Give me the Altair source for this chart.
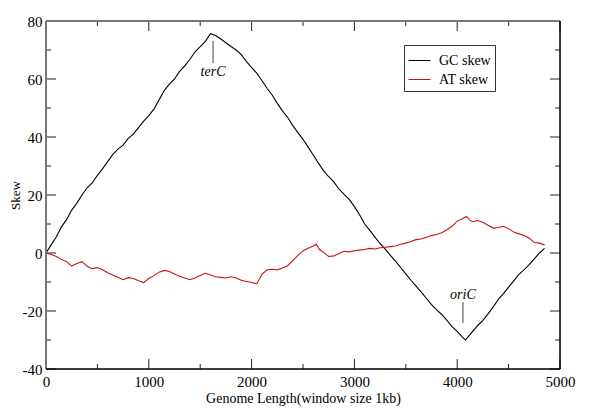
import altair as alt
import pandas as pd

# ---- data ----
gc_x = [0, 50, 100, 150, 200, 250, 300, 350, 400, 450, 500, 550, 600, 650, 700, 750, 800, 850, 900, 950,
        1000, 1050, 1100, 1150, 1200, 1250, 1300, 1350, 1400, 1450, 1500, 1550, 1600, 1650, 1700, 1750, 1800,
        1850, 1900, 1950, 2000, 2050, 2100, 2150, 2200, 2250, 2300, 2350, 2400, 2450, 2500, 2550, 2600, 2650,
        2700, 2750, 2800, 2850, 2900, 2950, 3000, 3050, 3100, 3150, 3200, 3250, 3300, 3350, 3400, 3450, 3500,
        3550, 3600, 3650, 3700, 3750, 3800, 3850, 3900, 3950, 4000, 4050, 4080, 4100, 4150, 4200, 4250, 4300,
        4350, 4400, 4450, 4500, 4550, 4600, 4650, 4700, 4750, 4800, 4850]
gc_y = [0.0, 2.8, 5.5, 9.0, 11.5, 14.8, 17.2, 20.0, 22.5, 24.2, 26.8, 29.0, 31.5, 34.0, 35.8, 37.2, 39.5, 41.0,
        43.2, 45.5, 47.4, 49.6, 52.8, 56.0, 58.2, 60.0, 62.6, 64.5, 66.8, 69.4, 71.2, 73.0, 75.6, 75.0, 73.8,
        72.5, 71.2, 70.0, 68.4, 66.0, 64.0, 62.0, 59.5, 56.8, 54.5, 51.6, 49.0, 46.8, 44.0, 41.5, 39.2, 36.5,
        33.8, 31.0, 28.4, 26.3, 24.5, 22.0, 20.2, 18.5, 16.0, 13.2, 10.0, 7.8, 5.5, 3.2, 1.3, -0.8, -2.8, -5.0,
        -7.2, -9.4, -11.4, -13.5, -15.6, -17.8, -19.6, -21.2, -23.2, -25.4, -27.0, -29.0, -30.0, -29.2, -27.0,
        -25.0, -23.2, -21.0, -18.6, -16.0, -14.0, -11.8, -9.6, -7.4, -5.8, -4.0, -2.0, 0.0, 1.6]

at_x = [0, 50, 100, 150, 200, 250, 300, 350, 400, 450, 500, 550, 600, 650, 700, 750, 800, 850, 900, 950,
        1000, 1050, 1100, 1150, 1200, 1250, 1300, 1350, 1400, 1450, 1500, 1550, 1600, 1650, 1700, 1750, 1800,
        1850, 1900, 1950, 2000, 2050, 2080, 2100, 2150, 2200, 2250, 2300, 2350, 2400, 2450, 2500, 2550, 2600,
        2630, 2660, 2700, 2750, 2800, 2850, 2900, 2950, 3000, 3050, 3100, 3150, 3200, 3250, 3300, 3350, 3400,
        3450, 3500, 3550, 3600, 3650, 3700, 3750, 3800, 3850, 3900, 3950, 4000, 4050, 4090, 4120, 4150, 4200,
        4250, 4300, 4350, 4400, 4450, 4500, 4550, 4600, 4650, 4700, 4750, 4800, 4850]
at_y = [0.0, -0.5, -1.2, -2.2, -3.0, -4.5, -3.6, -3.0, -4.6, -5.4, -5.0, -5.8, -6.8, -7.6, -8.4, -9.2, -8.5,
        -8.8, -9.6, -10.2, -8.8, -7.8, -6.6, -6.0, -6.4, -7.2, -8.0, -8.6, -9.2, -8.6, -7.8, -7.0, -7.6, -8.2,
        -8.4, -8.6, -8.2, -8.6, -9.4, -9.8, -10.2, -10.6, -8.8, -7.4, -5.8, -5.6, -5.8, -5.2, -4.4, -2.6, -0.8,
        0.8, 1.6, 2.4, 3.0, 1.2, 0.2, -1.2, -1.0, -0.2, 0.6, 0.4, 0.8, 1.0, 1.2, 1.6, 1.4, 1.8, 2.0, 2.2, 2.4,
        3.0, 3.4, 4.0, 4.6, 4.8, 5.4, 6.0, 6.4, 7.0, 8.0, 9.2, 11.0, 11.8, 12.6, 11.4, 10.8, 11.2, 10.6, 9.6,
        8.6, 8.8, 9.2, 8.4, 7.2, 6.6, 6.0, 5.2, 3.6, 3.4, 2.8]

series_names = ["GC skew", "AT skew"]
series_colors = ["#000000", "#cc1111"]

x_major = [0, 1000, 2000, 3000, 4000, 5000]
x_minor = [500, 1500, 2500, 3500, 4500]
y_major = [-40, -20, 0, 20, 40, 60, 80]
y_minor = [-30, -10, 10, 30, 50, 70]

ann_labels = ["terC", "oriC"]
ann_pos = [1625, 4056]
ann_text_y = [62.4, -14.5]
ann_line_top = [73.1, -16.9]
ann_line_bottom = [65.5, -24.1]

# ---- chart ----
W, H = 514, 348
FONT = "Liberation Serif"

df = pd.concat([
    pd.DataFrame({"pos": gc_x, "skew": gc_y, "series": series_names[0]}),
    pd.DataFrame({"pos": at_x, "skew": at_y, "series": series_names[1]}),
])

xs = alt.Scale(domain=[0, 5000], nice=False, zero=False)
ys = alt.Scale(domain=[-40, 80], nice=False, zero=False)

lines = alt.Chart(df).mark_line(strokeWidth=1.1).encode(
    x=alt.X("pos:Q", scale=xs, axis=alt.Axis(
        values=x_major, title="Genome Length(window size 1kb)", ticks=False, domain=False, grid=False,
        labelExpr="datum.value + ''",
        labelFont=FONT, labelFontSize=15, labelColor="#000", labelPadding=5, labelFlush=False,
        titleFont=FONT, titleFontSize=14, titleFontWeight="normal", titleColor="#000", titlePadding=2)),
    y=alt.Y("skew:Q", scale=ys, axis=alt.Axis(
        values=y_major, title="Skew", ticks=False, domain=False, grid=False,
        labelExpr="datum.value + ''",
        labelFont=FONT, labelFontSize=15, labelColor="#000", labelPadding=4, labelFlush=False,
        titleFont=FONT, titleFontSize=13, titleFontWeight="normal", titleColor="#000",
        titleX=-31, titleY=H / 2, titleAlign="center", titleBaseline="middle", titleAngle=270)),
    color=alt.Color("series:N", sort=series_names,
                    scale=alt.Scale(domain=series_names, range=series_colors),
                    legend=alt.Legend(title=None, orient="none", legendX=358, legendY=24,
                                      symbolType="stroke", symbolSize=484, symbolStrokeWidth=1,
                                      labelFont=FONT, labelFontSize=14, labelColor="#000",
                                      labelOffset=8, rowPadding=0, padding=4,
                                      strokeColor="#333", fillColor="white")),
)

def tick_layer(vals, field, scale, enc_fixed):
    d = pd.DataFrame({field: vals})
    if field == "pos":
        pos_enc = {"x": alt.X(f"{field}:Q", scale=scale)}
    else:
        pos_enc = {"y": alt.Y(f"{field}:Q", scale=scale)}
    return alt.Chart(d).mark_rule(color="#222", strokeWidth=1).encode(**pos_enc, **enc_fixed)

ticks = [
    tick_layer(x_major, "pos", xs, dict(y=alt.value(H), y2=alt.value(H - 10))),
    tick_layer(x_minor, "pos", xs, dict(y=alt.value(H), y2=alt.value(H - 5))),
    tick_layer(x_major, "pos", xs, dict(y=alt.value(0), y2=alt.value(10))),
    tick_layer(x_minor, "pos", xs, dict(y=alt.value(0), y2=alt.value(5))),
    tick_layer(y_major, "skew", ys, dict(x=alt.value(0), x2=alt.value(10))),
    tick_layer(y_minor, "skew", ys, dict(x=alt.value(0), x2=alt.value(5))),
    tick_layer(y_major, "skew", ys, dict(x=alt.value(W), x2=alt.value(W - 10))),
    tick_layer(y_minor, "skew", ys, dict(x=alt.value(W), x2=alt.value(W - 5))),
]

one = pd.DataFrame({"k": [0]})
frame = [
    alt.Chart(one).mark_rule(color="#777", strokeWidth=2).encode(x=alt.value(0), x2=alt.value(W), y=alt.value(0)),
    alt.Chart(one).mark_rule(color="#777", strokeWidth=2).encode(x=alt.value(0), y=alt.value(0), y2=alt.value(H)),
    alt.Chart(one).mark_rule(color="#000", strokeWidth=1.5).encode(x=alt.value(0), x2=alt.value(W), y=alt.value(H)),
    alt.Chart(one).mark_rule(color="#000", strokeWidth=1.5).encode(x=alt.value(W), y=alt.value(0), y2=alt.value(H)),
]

ann = pd.DataFrame({"pos": ann_pos, "skew": ann_text_y, "top": ann_line_top,
                    "bottom": ann_line_bottom, "label": ann_labels})
ann_lines = alt.Chart(ann).mark_rule(color="#444", strokeWidth=1).encode(
    x=alt.X("pos:Q", scale=xs), y=alt.Y("top:Q", scale=ys), y2="bottom:Q")
ann_text = alt.Chart(ann).mark_text(font=FONT, fontSize=14, fontStyle="italic", color="#000",
                                    align="center", baseline="middle").encode(
    x=alt.X("pos:Q", scale=xs), y=alt.Y("skew:Q", scale=ys), text="label:N")

chart = alt.layer(lines, *ticks, ann_lines, ann_text, *frame).properties(
    width=W, height=H,
    autosize=alt.AutoSizeParams(type="none"),
    padding={"left": 38, "top": 13, "right": 32, "bottom": 38},
).configure_view(stroke=None).configure(background="white")

chart.save("out.html", embed_options={"renderer": "svg", "actions": False})
